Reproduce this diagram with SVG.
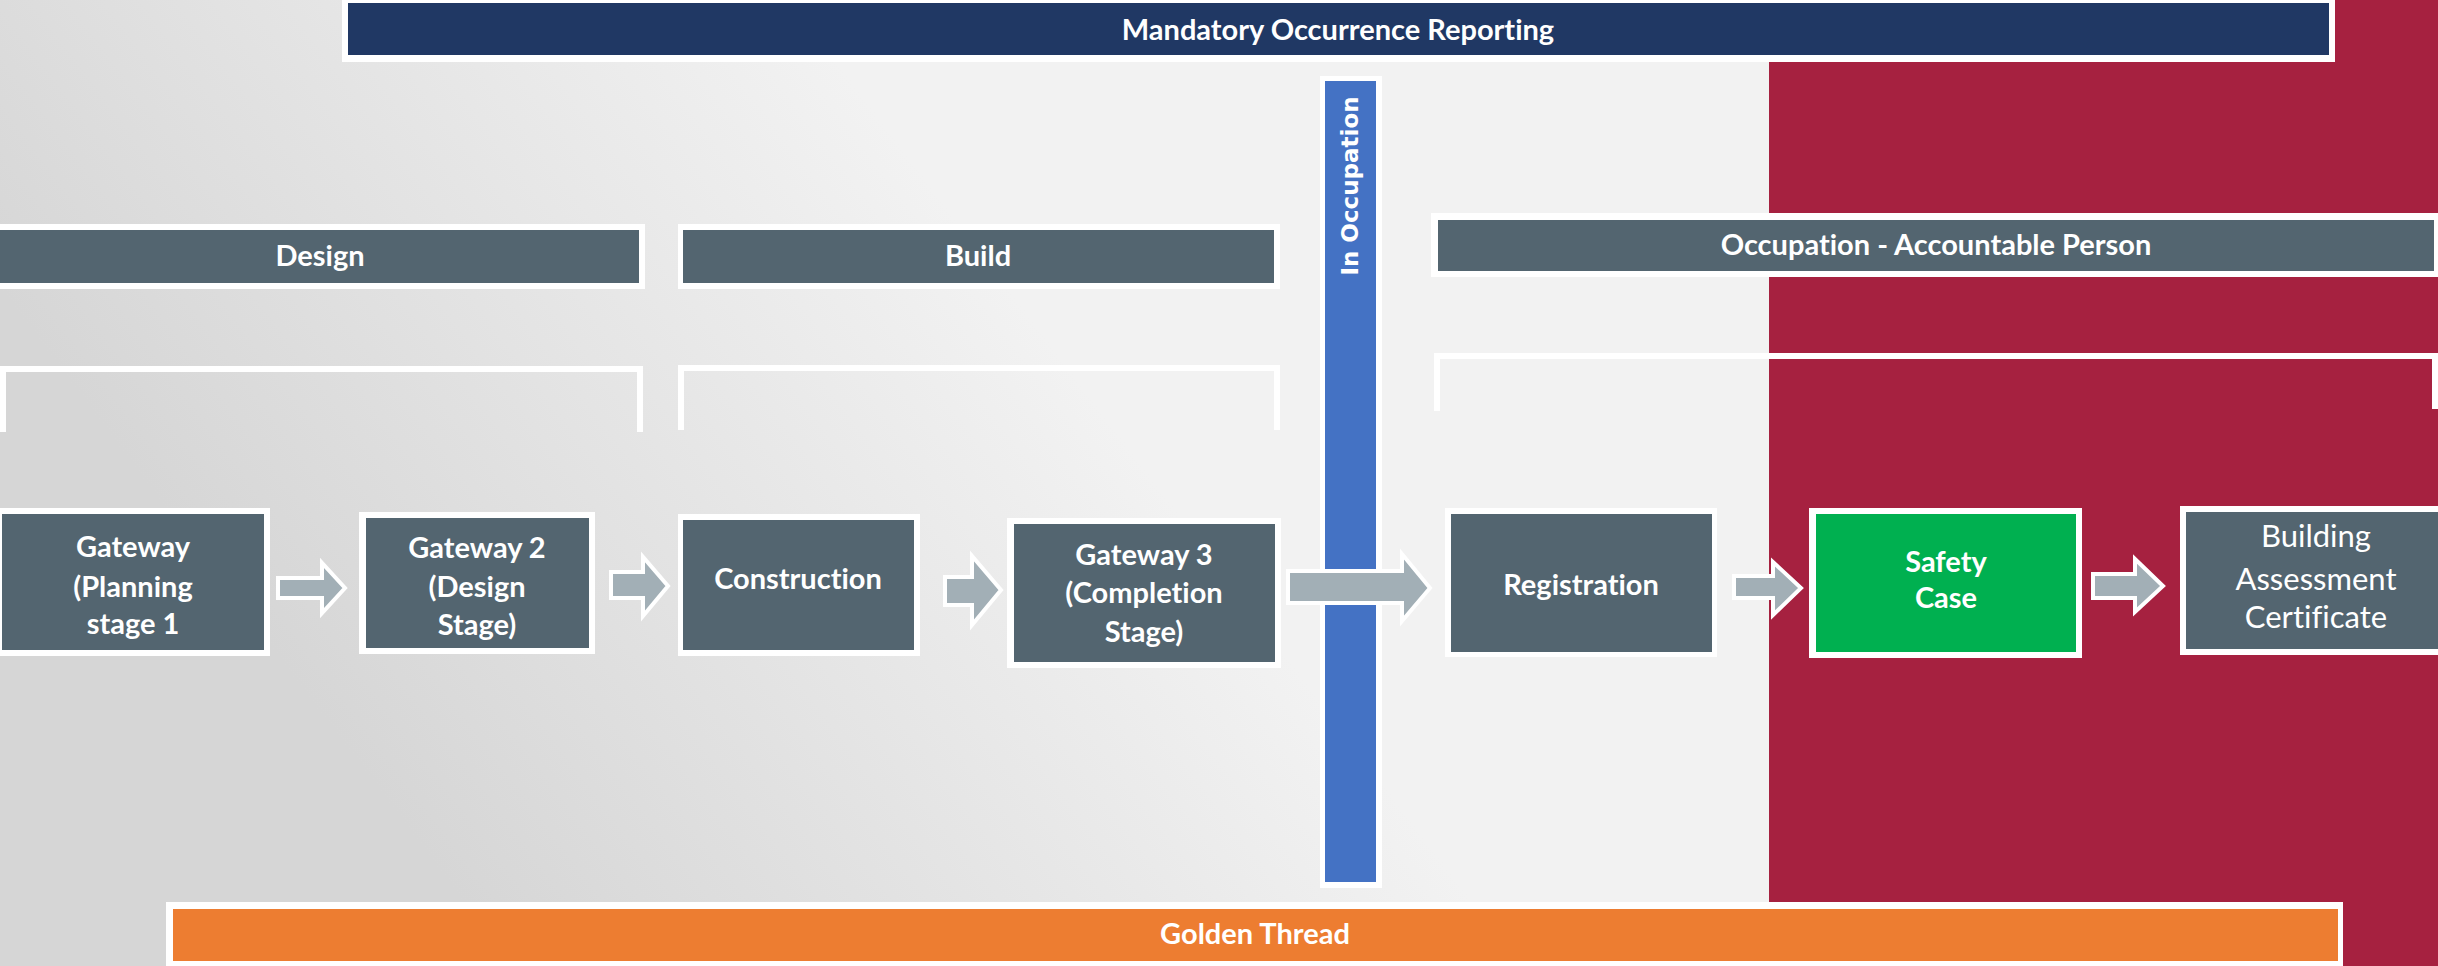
<svg xmlns="http://www.w3.org/2000/svg" width="2438" height="966" viewBox="0 0 2438 966">
<defs>
<linearGradient id="bg" x1="0" y1="0.3" x2="1" y2="0">
<stop offset="0" stop-color="#d6d6d6"/>
<stop offset="0.38" stop-color="#f2f2f2"/>
<stop offset="0.8" stop-color="#f2f2f2"/>
<stop offset="1" stop-color="#ebebeb"/>
</linearGradient>
<style>
text{font-variant-ligatures:none}
.wb{fill:#ffffff}
.gr{fill:#536570}
.t{fill:#ffffff;font-family:Lato,"Liberation Sans",sans-serif;font-weight:bold;font-size:29px;text-anchor:middle}
.tr{fill:#ffffff;font-family:Lato,"Liberation Sans",sans-serif;font-weight:normal;font-size:31px;text-anchor:middle}
.br{fill:none;stroke:#ffffff;stroke-width:6}
.ar{fill:#a2afb6;stroke:#ffffff;stroke-width:4;stroke-linejoin:miter}
</style>
</defs>
<rect x="0" y="0" width="2438" height="966" fill="url(#bg)"/>
<rect x="1769" y="0" width="669" height="966" fill="#a62140"/>

<g id="mandatory">
<rect class="wb" x="342" y="0" width="1993" height="62"/>
<rect x="348" y="3" width="1981" height="52" fill="#203864"/>
<text class="t" x="1338" y="40" font-size="30">Mandatory Occurrence Reporting</text>
</g>

<g id="design">
<rect class="wb" x="0" y="224" width="645" height="65"/>
<rect class="gr" x="0" y="230" width="639" height="53"/>
<text class="t" x="320" y="266">Design</text>
</g>
<g id="build">
<rect class="wb" x="678" y="224" width="602" height="65"/>
<rect class="gr" x="683" y="230" width="591" height="53"/>
<text class="t" x="978" y="266">Build</text>
</g>
<g id="occupation-ap">
<rect class="wb" x="1431" y="213" width="1007" height="64"/>
<rect class="gr" x="1438" y="220" width="996" height="51"/>
<text class="t" x="1936" y="255">Occupation - Accountable Person</text>
</g>

<g id="brackets">
<path class="br" d="M3 432 V369 H640 V432"/>
<path class="br" d="M681 430 V368 H1277 V430"/>
<path class="br" d="M1437 411 V356 H2435 V409"/>
</g>

<g id="in-occupation">
<rect class="wb" x="1320" y="76" width="62" height="812"/>
<rect x="1325" y="81" width="51" height="801" fill="#4472c4"/>
<text transform="translate(1358,186) rotate(-90)" x="0" y="0" fill="#ffffff" font-family="'DejaVu Sans',Verdana,sans-serif" font-weight="bold" font-size="23" text-anchor="middle">In Occupation</text>
</g>

<g id="golden-thread">
<rect class="wb" x="166" y="902" width="2177" height="64"/>
<rect x="173" y="909" width="2165" height="52" fill="#ed7d31"/>
<text class="t" x="1255" y="944">Golden Thread</text>
</g>

<g id="gateway1">
<rect class="wb" x="0" y="508" width="270" height="148"/>
<rect class="gr" x="2" y="514" width="262" height="136"/>
<text class="t" x="133" y="557">Gateway</text>
<text class="t" x="133" y="597">(Planning</text>
<text class="t" x="133" y="634">stage 1</text>
</g>
<g id="gateway2">
<rect class="wb" x="359" y="512" width="236" height="142"/>
<rect class="gr" x="366" y="518" width="223" height="130"/>
<text class="t" x="477" y="558">Gateway 2</text>
<text class="t" x="477" y="597">(Design</text>
<text class="t" x="477" y="635">Stage)</text>
</g>
<g id="construction">
<rect class="wb" x="678" y="514" width="242" height="142"/>
<rect class="gr" x="683" y="520" width="231" height="130"/>
<text class="t" x="798" y="589">Construction</text>
</g>
<g id="gateway3">
<rect class="wb" x="1007" y="518" width="274" height="150"/>
<rect class="gr" x="1014" y="524" width="261" height="138"/>
<text class="t" x="1144" y="565">Gateway 3</text>
<text class="t" x="1144" y="603">(Completion</text>
<text class="t" x="1144" y="642">Stage)</text>
</g>
<g id="registration">
<rect class="wb" x="1445" y="508" width="272" height="149"/>
<rect class="gr" x="1451" y="514" width="261" height="138"/>
<text class="t" x="1581" y="595">Registration</text>
</g>
<g id="safety-case">
<rect class="wb" x="1809" y="508" width="273" height="150"/>
<rect x="1816" y="514" width="260" height="138" fill="#00b050"/>
<text class="t" x="1946" y="572">Safety</text>
<text class="t" x="1946" y="608">Case</text>
</g>
<g id="bac">
<rect class="wb" x="2180" y="506" width="258" height="149"/>
<rect class="gr" x="2186" y="512" width="252" height="137"/>
<text class="tr" x="2316" y="547">Building</text>
<text class="tr" x="2316" y="590">Assessment</text>
<text class="tr" x="2316" y="628">Certificate</text>
</g>

<g id="connectors">
<polygon class="ar" points="278,578 322,578 322,563 345,588 322,613 322,598 278,598"/>
<polygon class="ar" points="611,572 643,572 643,557 668,586 643,616 643,598 611,598"/>
<polygon class="ar" points="945,577 972,577 972,556 1001,590 972,625 972,605 945,605"/>
<polygon class="ar" points="1288,571 1402,571 1402,554 1430,588 1402,621 1402,603 1288,603"/>
<polygon class="ar" points="1734,576 1773,576 1773,562 1801,588 1773,615 1773,598 1734,598"/>
<polygon class="ar" points="2093,574 2135,574 2135,559 2163,586 2135,612 2135,598 2093,598"/>
</g>
</svg>
